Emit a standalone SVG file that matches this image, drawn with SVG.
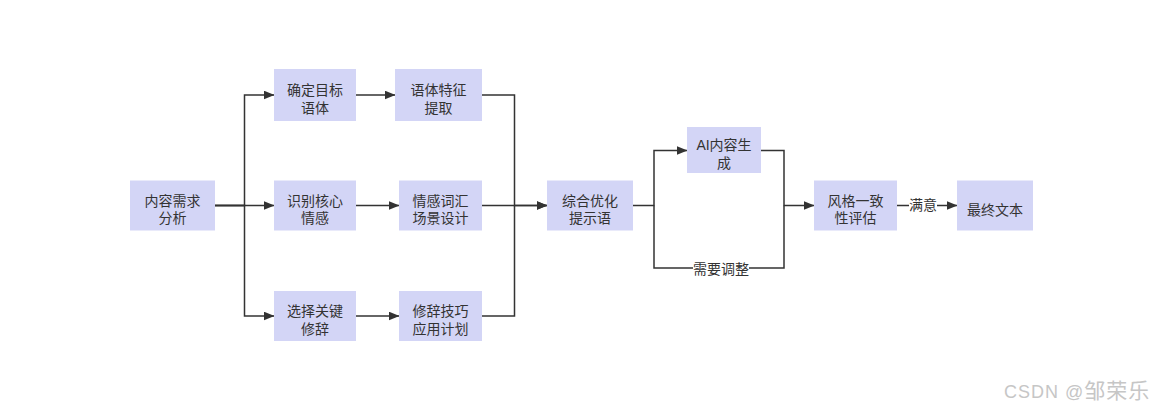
<svg xmlns="http://www.w3.org/2000/svg" width="1158" height="414" viewBox="0 0 1158 414">
<style>
.node rect{fill:#d3d5f6;stroke:none}
.node text,.lbl text{font-family:"Liberation Sans","Noto Sans CJK SC",sans-serif;font-size:14px;fill:#333;text-anchor:middle}
.edges path{fill:none;stroke:#333;stroke-width:1.5}
.lbl rect{fill:#fff}
.wm{font-family:"Liberation Sans","Noto Sans CJK SC",sans-serif;font-size:18px;fill:#c6c6c6;letter-spacing:1px}
</style>
<defs>
<marker id="arr" viewBox="0 0 11 9" refX="10.5" refY="4.5" markerWidth="11" markerHeight="9" markerUnits="userSpaceOnUse" orient="auto">
<path d="M0,0 L11,4.5 L0,9 z" fill="#333"/>
</marker>
</defs>
<rect width="1158" height="414" fill="#fff"/>
<g id="connectors" class="edges">
<path d="M215,205.5 H244.5 V95 H274" marker-end="url(#arr)"/>
<path d="M215,205.5 H274" marker-end="url(#arr)"/>
<path d="M215,205.5 H244.5 V316 H274" marker-end="url(#arr)"/>
<path d="M356,95 H395" marker-end="url(#arr)"/>
<path d="M356,205.5 H399" marker-end="url(#arr)"/>
<path d="M356,316 H399" marker-end="url(#arr)"/>
<path d="M482,95 H514.5 V205.5 H547" marker-end="url(#arr)"/>
<path d="M482,205.5 H547" marker-end="url(#arr)"/>
<path d="M482,316 H514.5 V205.5"/>
<path d="M633,205.5 H654 V150.5 H687" marker-end="url(#arr)"/>
<path d="M761,150.5 H784 V205.5 H814" marker-end="url(#arr)"/>
<path d="M784,205.5 V268 H654 V205.5"/>
<path d="M897,205.5 H957" marker-end="url(#arr)"/>
</g>
<g id="label-tiaozheng" class="lbl">
<rect x="693" y="260" width="56" height="17"/>
<text x="721" y="274">需要调整</text>
</g>
<g id="label-manyi" class="lbl">
<rect x="909" y="197" width="28" height="17"/>
<text x="923" y="209.5">满意</text>
</g>
<g id="n1" class="node"><rect x="130" y="180.5" width="85" height="50"/><text x="172.5" y="205.5">内容需求<tspan x="172.5" dy="17.5">分析</tspan></text></g>
<g id="n2" class="node"><rect x="274" y="69" width="82" height="52"/><text x="315" y="95">确定目标<tspan x="315" dy="17.5">语体</tspan></text></g>
<g id="n3" class="node"><rect x="274" y="180.5" width="82" height="50"/><text x="315" y="205.5">识别核心<tspan x="315" dy="17.5">情感</tspan></text></g>
<g id="n4" class="node"><rect x="274" y="291" width="82" height="50"/><text x="315" y="316">选择关键<tspan x="315" dy="17.5">修辞</tspan></text></g>
<g id="n5" class="node"><rect x="395" y="69" width="87" height="52"/><text x="438.5" y="95">语体特征<tspan x="438.5" dy="17.5">提取</tspan></text></g>
<g id="n6" class="node"><rect x="399" y="180.5" width="83" height="50"/><text x="440.5" y="205.5">情感词汇<tspan x="440.5" dy="17.5">场景设计</tspan></text></g>
<g id="n7" class="node"><rect x="399" y="291" width="83" height="50"/><text x="440.5" y="316">修辞技巧<tspan x="440.5" dy="17.5">应用计划</tspan></text></g>
<g id="n8" class="node"><rect x="547" y="180.5" width="86" height="50"/><text x="590" y="205.5">综合优化<tspan x="590" dy="17.5">提示语</tspan></text></g>
<g id="n9" class="node"><rect x="687" y="127" width="74" height="46"/><text x="724" y="150">AI内容生<tspan x="724" dy="17.5">成</tspan></text></g>
<g id="n10" class="node"><rect x="814" y="180.5" width="83" height="50"/><text x="855.5" y="205.5">风格一致<tspan x="855.5" dy="17.5">性评估</tspan></text></g>
<g id="n11" class="node"><rect x="957" y="180.5" width="76" height="50"/><text x="995" y="214.5">最终文本</text></g>
<text class="wm" x="1004" y="398">CSDN @<tspan font-size="21">邹荣乐</tspan></text>
</svg>
